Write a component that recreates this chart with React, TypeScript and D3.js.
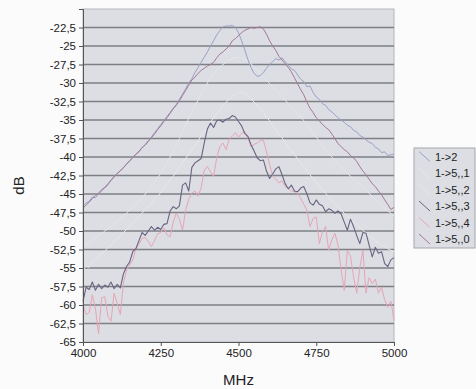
import { useEffect, useRef } from 'react';
import * as d3 from 'd3';

// frequency grid of the measurement, MHz
const freqs = d3.range(4000, 5001, 10);

const seriesNames = ['1->2', '1->5,,1', '1->5,,2', '1->5,,3', '1->5,,4', '1->5,,0'];
const seriesColors = ['#9aa0c6', '#e6e8ec', '#e4e6ea', '#6a6382', '#e6a5b5', '#a27894'];

const yTicks = [-65, -62.5, -60, -57.5, -55, -52.5, -50, -47.5, -45, -42.5, -40, -37.5, -35, -32.5, -30, -27.5, -25, -22.5];
const xTicks = [4000, 4250, 4500, 4750, 5000];

const s12 = [
  -46.6, -46.2, -46.0, -45.4, -45.5, -45.0, -44.6, -44.2, -43.8, -43.1,
  -42.6, -42.3, -41.8, -41.5, -40.9, -40.6, -40.0, -39.7, -39.2, -38.8,
  -38.3, -37.8, -37.3, -36.7, -36.2, -35.6, -35.1, -34.5, -34.0, -33.4,
  -32.9, -32.2, -31.5, -30.8, -30.0, -29.4, -28.6, -27.9, -27.2, -26.5,
  -25.8, -25.0, -24.3, -23.5, -22.9, -22.4, -22.3, -22.3, -22.2, -22.5,
  -23.2, -24.3, -25.5, -26.8, -27.9, -28.7, -29.1, -29.0, -28.6, -28.0,
  -27.5, -27.1, -26.7, -26.9, -26.6, -27.1, -27.6, -28.1, -28.3, -28.9,
  -29.5, -29.8, -30.5, -30.4, -31.3, -31.9, -32.2, -32.8, -33.0, -33.6,
  -33.9, -34.3, -34.7, -35.0, -35.3, -35.7, -35.9, -36.4, -36.6, -37.1,
  -37.3, -37.7, -38.0, -38.2, -38.7, -38.9, -39.4, -39.3, -39.8, -39.7,
  -39.6,
];

const s151 = [
  -55.2, -54.8, -54.9, -54.1, -53.8, -53.5, -53.0, -52.8, -52.2, -51.9,
  -51.5, -51.0, -50.7, -50.2, -49.8, -49.4, -48.9, -48.5, -48.0, -47.6,
  -47.1, -46.7, -46.2, -45.7, -45.3, -44.8, -44.2, -43.7, -43.1, -42.6,
  -42.0, -41.4, -40.8, -40.2, -39.6, -39.0, -38.4, -37.8, -37.1, -36.5,
  -35.9, -35.3, -34.7, -34.1, -33.6, -33.1, -32.6, -32.2, -31.8, -31.5,
  -31.3, -31.2, -31.4, -31.7, -32.1, -32.6, -33.0, -33.5, -34.0, -34.6,
  -35.1, -35.7, -36.3, -36.9, -37.4, -38.0, -38.6, -39.1, -39.7, -40.2,
  -40.8, -41.3, -41.9, -42.4, -42.9, -43.4, -43.9, -44.4, -44.9, -45.4,
  -45.8, -46.3, -46.7, -47.2, -47.6, -48.0, -48.4, -48.8, -49.2, -49.5,
  -49.9, -50.3, -50.6, -50.9, -51.3, -51.6, -51.9, -52.1, -52.4, -52.6,
  -52.8,
];

const s152 = [
  -52.1, -51.8, -51.6, -51.2, -51.0, -50.6, -50.4, -50.0, -49.7, -49.4,
  -49.0, -48.7, -48.3, -48.0, -47.6, -47.2, -46.8, -46.4, -46.0, -45.5,
  -45.0, -44.5, -43.9, -43.4, -42.8, -42.2, -41.5, -40.8, -40.0, -39.2,
  -38.4, -37.5, -36.6, -35.7, -34.8, -33.9, -33.1, -32.3, -31.5, -30.7,
  -30.0, -29.4, -28.8, -28.3, -27.9, -27.5, -27.2, -26.9, -26.7, -26.6,
  -26.5, -26.6, -26.8, -27.1, -27.4, -27.8, -28.2, -28.7, -29.2, -29.6,
  -30.1, -30.5, -31.0, -31.4, -31.9, -32.3, -32.8, -33.2, -33.7, -34.1,
  -34.6, -35.1, -35.7, -36.2, -36.8, -37.3, -37.9, -38.4, -39.0, -39.5,
  -40.0, -40.4, -40.9, -41.3, -41.8, -42.2, -42.6, -43.0, -43.4, -43.8,
  -44.1, -44.5, -44.9, -45.3, -45.7, -46.1, -46.5, -46.9, -47.3, -47.6,
  -48.0,
];

const s153 = [
  -59.5, -57.6, -57.9, -56.9, -58.0, -57.2, -57.8, -57.3, -57.6, -56.9,
  -57.8, -57.2, -57.7, -55.8, -54.8, -54.2, -52.8, -52.4, -51.3, -50.2,
  -50.6, -50.0, -49.4, -49.9, -49.5, -49.8, -49.1, -49.0, -47.3, -46.7,
  -47.0, -46.6, -43.8, -43.5, -44.6, -41.4, -40.8, -40.5, -40.2, -38.1,
  -36.2, -35.4, -36.0, -35.1, -35.0, -35.3, -34.9, -34.8, -34.4, -34.6,
  -35.2, -35.8, -36.8, -37.2, -38.3, -39.2, -40.1, -40.5, -40.4, -41.9,
  -42.9, -42.3, -41.6, -41.3, -42.4, -43.6, -44.3, -43.8, -44.6, -44.7,
  -44.2, -44.0, -45.0, -46.2, -46.5, -45.8, -46.4, -46.6, -47.4, -47.0,
  -47.2, -47.6, -47.3, -47.7, -48.8, -49.9, -48.4, -49.4, -50.6, -51.7,
  -50.2, -50.3, -51.9, -53.5, -52.2, -53.0, -52.8, -54.4, -54.8, -53.9,
  -53.6,
];

const s154 = [
  -60.0, -61.3, -61.0, -58.6, -60.5, -63.9, -59.0, -58.9, -61.5, -62.2,
  -58.4, -59.8, -61.3, -57.0, -55.3, -54.6, -53.9, -52.4, -51.8, -51.0,
  -50.9, -51.4, -52.1, -51.3, -50.4, -50.2, -49.6, -50.5, -50.8, -48.8,
  -47.6, -48.4, -49.9, -47.2, -45.7, -44.9, -44.6, -45.3, -44.1, -41.8,
  -41.3, -42.0, -42.6, -40.1, -38.6, -38.1, -39.0, -37.6, -37.2, -36.7,
  -37.3, -36.8, -36.6, -37.4, -38.6, -38.3, -38.1, -37.8, -37.7, -39.3,
  -41.0, -42.6, -43.0, -43.5, -43.2, -44.0, -44.2, -44.6, -44.7, -44.9,
  -45.6, -46.4, -47.2, -49.4, -48.3, -48.1, -51.7, -50.1, -49.4, -52.6,
  -51.2, -50.3, -51.9, -55.3, -58.0, -52.6, -53.4, -56.2, -58.4, -55.0,
  -52.6, -58.4, -56.3, -57.1, -56.5, -58.4, -57.6, -59.3, -60.3, -59.5,
  -62.0,
];

const s150 = [
  -46.9, -46.5, -46.1, -45.6, -45.2, -44.9, -44.4, -44.1, -43.6, -43.2,
  -42.7, -42.2, -41.9, -41.4, -41.0, -40.5, -40.1, -39.6, -39.3, -38.7,
  -38.4, -37.9, -37.4, -36.9, -36.3, -35.8, -35.2, -34.7, -34.1, -33.5,
  -33.0, -32.4, -31.7, -31.0, -30.3, -29.6, -29.2, -28.7, -28.3, -28.0,
  -27.7, -27.5, -27.2, -26.6, -26.1, -25.8, -25.4, -25.0, -24.3, -24.0,
  -23.6, -23.2, -22.9, -22.7, -22.5, -22.6, -22.5, -22.4, -22.7, -23.4,
  -24.3, -25.0, -25.6, -26.4, -26.9, -27.4, -27.9, -28.5, -29.3, -30.1,
  -30.9, -31.6, -32.6, -33.4, -34.0, -34.7, -35.1, -35.6, -36.0, -36.3,
  -36.9, -37.5, -38.2, -38.6, -39.0, -39.3, -39.8, -40.1, -40.6, -41.3,
  -41.9, -42.4, -43.0, -43.6, -44.0, -44.6, -45.1, -45.8, -46.4, -47.1,
  -46.8,
];

const seriesValues = [s12, s151, s152, s153, s154, s150];
// draw order: faint ones first, dark ones on top
const drawOrder = [1, 2, 4, 0, 5, 3];

export default function App() {
  const svgRef = useRef<SVGSVGElement | null>(null);

  useEffect(() => {
    if (!svgRef.current) return;
    const svg = d3.select(svgRef.current);
    svg.selectAll('*').remove();

    const width = 476;
    const height = 389;
    const margin = { top: 9, right: 82, bottom: 47, left: 83 };
    const font = 'Liberation Sans, Arial, sans-serif';

    const x = d3.scaleLinear().domain([4000, 5000]).range([margin.left, width - margin.right]);
    const y = d3.scaleLinear().domain([-65, -20]).range([height - margin.bottom, margin.top]);

    svg.append('rect').attr('width', width).attr('height', height).attr('fill', '#fbfbfc');

    // plot area
    svg.append('rect')
      .attr('x', margin.left)
      .attr('y', margin.top)
      .attr('width', x(5000) - x(4000))
      .attr('height', y(-65) - y(-20))
      .attr('fill', '#dcdee3')
      .attr('stroke', '#b4b6bb')
      .attr('stroke-width', 1);

    // horizontal grid
    svg.append('g')
      .selectAll('line')
      .data(yTicks.filter(d => d > -65))
      .join('line')
      .attr('x1', x(4000))
      .attr('x2', x(5000))
      .attr('y1', d => y(d))
      .attr('y2', d => y(d))
      .attr('stroke', '#7d7f84')
      .attr('stroke-width', 1.3);

    // series
    const line = d3.line<number>()
      .x((d, i) => x(freqs[i]))
      .y(d => y(d));

    drawOrder.forEach(k => {
      svg.append('path')
        .datum(seriesValues[k])
        .attr('fill', 'none')
        .attr('stroke', seriesColors[k])
        .attr('stroke-width', k === 3 ? 1.1 : 1)
        .attr('stroke-linejoin', 'round')
        .attr('d', line);
    });

    // axes
    const xAxis = svg.append('g')
      .attr('transform', `translate(0,${y(-65)})`)
      .call(d3.axisBottom(x).tickValues(xTicks).tickSize(4).tickPadding(3).tickFormat(d => String(d)));
    xAxis.select('.domain').attr('stroke', '#555');
    xAxis.selectAll('line').attr('stroke', '#555');
    xAxis.selectAll('text')
      .attr('font-family', font)
      .attr('font-size', 11.5)
      .attr('fill', '#222');

    const yAxis = svg.append('g')
      .attr('transform', `translate(${x(4000)},0)`)
      .call(d3.axisLeft(y).tickValues(yTicks).tickSize(4).tickPadding(3)
        .tickFormat(d => String(d).replace('.', ',')));
    yAxis.select('.domain').attr('stroke', '#555');
    yAxis.selectAll('line').attr('stroke', '#555');
    yAxis.selectAll('text')
      .attr('font-family', font)
      .attr('font-size', 11.5)
      .attr('fill', '#222');

    svg.append('text')
      .attr('transform', `translate(24,${(y(-65) + y(-20)) / 2 + 10}) rotate(-90)`)
      .attr('text-anchor', 'middle')
      .attr('font-family', font)
      .attr('font-size', 15)
      .attr('fill', '#222')
      .text('dB');

    svg.append('text')
      .attr('x', (x(4000) + x(5000)) / 2)
      .attr('y', 385)
      .attr('text-anchor', 'middle')
      .attr('font-family', font)
      .attr('font-size', 15)
      .attr('fill', '#222')
      .text('MHz');

    // legend
    const lg = svg.append('g').attr('transform', 'translate(414,148)');
    lg.append('rect')
      .attr('width', 61)
      .attr('height', 100)
      .attr('fill', '#dcdee3')
      .attr('stroke', '#a4a6ab');
    seriesNames.forEach((name, i) => {
      const cy = 8.5 + i * 16.5;
      lg.append('line')
        .attr('x1', 5).attr('y1', cy - 5)
        .attr('x2', 16).attr('y2', cy + 5)
        .attr('stroke', seriesColors[i])
        .attr('stroke-width', 1);
      lg.append('text')
        .attr('x', 21)
        .attr('y', cy + 4)
        .attr('font-family', font)
        .attr('font-size', 11)
        .attr('fill', '#222')
        .text(name);
    });
  }, []);

  return (
    <svg ref={svgRef} width={476} height={389}
      style={{ position: 'absolute', left: 0, top: 0 }} />
  );
}
